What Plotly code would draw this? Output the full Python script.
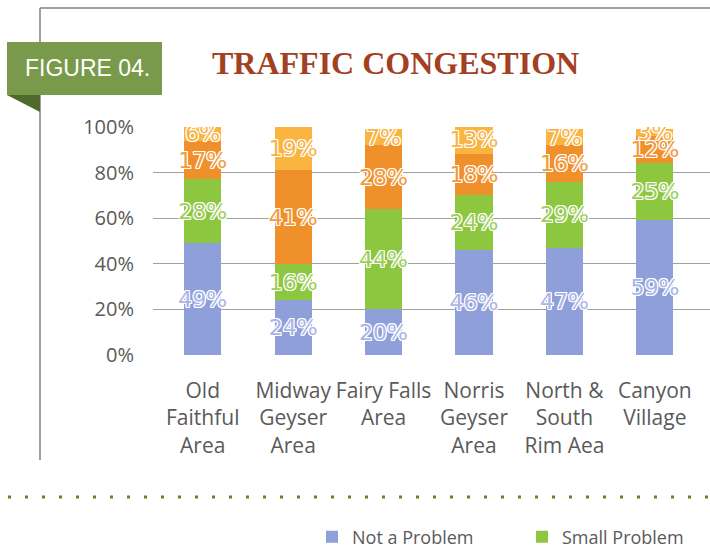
import plotly.graph_objects as go

categories = ["Old<br>Faithful<br>Area", "Midway<br>Geyser<br>Area", "Fairy Falls<br>Area",
              "Norris<br>Geyser<br>Area", "North &<br>South<br>Rim Aea", "Canyon<br>Village"]
not_a_problem = [49, 24, 20, 46, 47, 59]
small_problem = [28, 16, 44, 24, 29, 25]
moderate_problem = [17, 41, 28, 18, 16, 12]
big_problem = [6, 19, 7, 13, 7, 3]
y_ticks = [0, 20, 40, 60, 80, 100]
y_tick_labels = ["0%", "20%", "40%", "60%", "80%", "100%"]

series = [
    ("Not a Problem", not_a_problem, "#8E9FD9", "#A9B5EA", "legend"),
    ("Small Problem", small_problem, "#8DC63F", "#9ECF5C", "legend2"),
    ("Moderate Problem", moderate_problem, "#F0902B", "#F39A3A", None),
    ("Big Problem", big_problem, "#F9B53F", "#F8B446", None),
]

W, H = 710, 552
L, R, T, B = 153, 0, 127, 197
PW, PH = W - L - R, H - T - B


def px(x):
    return (x - L) / PW


def py(y):
    return (H - B - y) / PH


shadow = ("1px 1px 0 #fff, -1px -1px 0 #fff, 1px -1px 0 #fff, -1px 1px 0 #fff, "
          "0 1px 0 #fff, 0 -1px 0 #fff, 1px 0 0 #fff, -1px 0 0 #fff")

fig = go.Figure()
for name, vals, color, tcolor, leg in series:
    kw = dict(showlegend=leg is not None)
    if leg:
        kw["legend"] = leg
    fig.add_trace(go.Bar(
        x=categories, y=vals, name=name, marker_color=color,
        marker_line_width=0,
        text=[f"{v}%" for v in vals], textposition="inside",
        insidetextanchor="middle", textangle=0, constraintext="none",
        textfont=dict(family="DejaVu Sans", size=22, color=tcolor, shadow=shadow),
        **kw,
    ))

legend_common = dict(orientation="h", yanchor="middle", xanchor="left",
                     font=dict(size=18, color="#5a5a5a"), bgcolor="rgba(0,0,0,0)")

fig.update_layout(
    barmode="stack", bargap=0.59,
    width=W, height=H, autosize=False,
    margin=dict(l=L, r=R, t=T, b=B, pad=0, autoexpand=False),
    paper_bgcolor="white", plot_bgcolor="white",
    font=dict(family="Open Sans", color="#5a5a5a"),
    uniformtext=dict(mode="show", minsize=22),
    xaxis=dict(range=[-0.55, 5.61], showgrid=False, zeroline=False, showline=False,
               tickangle=0, tickfont=dict(size=21, color="#5a5a5a"), ticks="",
               ticklabelstandoff=21),
    yaxis=dict(range=[0, 100], tickvals=y_ticks, ticktext=y_tick_labels,
               showgrid=True, gridcolor="#a0a0a0", gridwidth=1, zeroline=False,
               showline=False, ticks="", ticklabelstandoff=18,
               tickfont=dict(size=20, color="#5a5a5a")),
    legend=dict(x=px(312), y=py(537), **legend_common),
    legend2=dict(x=px(522), y=py(537), **legend_common),
)

shapes = [
    dict(type="line", xref="paper", yref="paper", x0=px(40), x1=px(710), y0=py(8), y1=py(8),
         line=dict(color="#808080", width=1.5)),
    dict(type="line", xref="paper", yref="paper", x0=px(40), x1=px(40), y0=py(8), y1=py(460),
         line=dict(color="#808080", width=1.5)),
    dict(type="rect", xref="paper", yref="paper", x0=px(7), x1=px(162), y0=py(42), y1=py(95),
         fillcolor="#7A9A4B", line=dict(width=0), layer="above"),
    dict(type="path", xref="paper", yref="paper",
         path=f"M {px(7)} {py(95)} L {px(40)} {py(95)} L {px(40)} {py(112)} Z",
         fillcolor="#4E6B2B", line=dict(width=0), layer="above"),
    dict(type="line", xref="paper", yref="paper", x0=px(8), x1=px(710), y0=py(497), y1=py(497),
         line=dict(color="#6E7F2E", width=3, dash="3px,14px")),
]
fig.update_layout(shapes=shapes)

fig.add_annotation(xref="paper", yref="paper", x=px(87), y=py(68), text="FIGURE 04.",
                   showarrow=False, xanchor="center", yanchor="middle",
                   font=dict(family="Liberation Sans Narrow, Liberation Sans", size=23, color="white"))
fig.add_annotation(xref="paper", yref="paper", x=px(395), y=py(63), text="<b>TRAFFIC CONGESTION</b>",
                   showarrow=False, xanchor="center", yanchor="middle",
                   font=dict(family="Liberation Serif", size=32, color="#A3401F"))

fig.write_html("out.html", config={"displayModeBar": False},
               post_script="document.body.style.margin='0px';")
